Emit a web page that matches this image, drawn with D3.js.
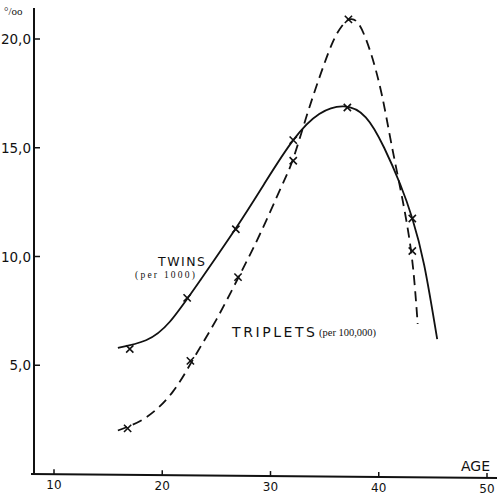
<!DOCTYPE html>
<html>
<head>
<meta charset="utf-8">
<script src="https://cdn.jsdelivr.net/npm/d3@7"></script>
<style>
  body { margin: 0; background: #fff; }
  text { font-family: "DejaVu Sans", sans-serif; fill: #111; }
</style>
</head>
<body>
<svg id="chart" width="497" height="501"></svg>
<script>
// tick values
const xTicks = [10, 20, 30, 40, 50];
const yTicks = [5, 10, 15, 20];

// observed points (crosses)
const twinsPts    = [[17.0, 5.75], [22.3, 8.1], [26.8, 11.25], [32.1, 15.35], [37.1, 16.85], [43.1, 11.75]];
const tripletsPts = [[16.8, 2.1], [22.6, 5.2], [27.0, 9.05], [32.1, 14.4], [37.2, 20.9], [43.1, 10.25]];

// hand-drawn fitted curves
const twinsCurve = [[15.9, 5.8], [18.5, 6.15], [20.7, 7.0], [23.5, 8.9], [26.8, 11.3], [29.5, 13.4],
  [32.1, 15.35], [34.5, 16.55], [36.8, 16.9], [38.8, 16.4], [40.5, 15.0], [42.0, 13.3], [43.1, 11.75],
  [44.2, 9.6], [45.4, 6.2]];
const tripletsCurve = [[15.9, 2.0], [18.5, 2.6], [21.0, 3.8], [23.0, 5.4], [25.0, 7.1], [27.0, 9.0],
  [29.0, 11.0], [31.0, 13.2], [32.1, 14.5], [33.3, 16.4], [34.5, 18.2], [35.7, 19.8], [36.6, 20.6],
  [37.3, 20.9], [38.2, 20.65], [39.3, 19.3], [40.3, 17.4], [41.2, 15.1], [42.2, 12.6], [43.0, 10.2],
  [43.4, 8.2], [43.6, 6.9]];

const svg = d3.select('#chart');
const x = d3.scaleLinear().domain([10, 50]).range([54, 487]);
const y = d3.scaleLinear().domain([0, 20]).range([474, 39]);

const axisX = 34, axisY = 474;

// axes lines
svg.append('line').attr('x1', axisX).attr('x2', axisX).attr('y1', 8).attr('y2', axisY)
  .attr('stroke', '#111').attr('stroke-width', 2);
svg.append('line').attr('x1', 31).attr('x2', 497).attr('y1', axisY).attr('y2', axisY + 4)
  .attr('stroke', '#111').attr('stroke-width', 1.8);

// y ticks
const gy = svg.append('g');
yTicks.forEach(v => {
  gy.append('line').attr('x1', axisX).attr('x2', axisX + 6).attr('y1', y(v)).attr('y2', y(v))
    .attr('stroke', '#111').attr('stroke-width', 1.5);
  gy.append('text').attr('x', axisX - 3).attr('y', y(v) + 5).attr('text-anchor', 'end')
    .style('font-size', '13.5px').text(d3.format('.1f')(v).replace('.', ','));
});

// x ticks (axis drifts slightly downward to the right)
const gx = svg.append('g');
xTicks.forEach(v => {
  const yy = axisY + (x(v) - 31) / 466 * 4;
  gx.append('line').attr('x1', x(v)).attr('x2', x(v)).attr('y1', yy).attr('y2', yy - 5)
    .attr('stroke', '#111').attr('stroke-width', 1.5);
  gx.append('text').attr('x', x(v)).attr('y', yy + 15).attr('text-anchor', 'middle')
    .style('font-size', '12px').text(v);
});

svg.append('text').attr('x', 4).attr('y', 15).style('font-size', '11px')
  .style('font-family', '"Liberation Serif", serif').text('°/oo');
svg.append('text').attr('x', 490).attr('y', 471).attr('text-anchor', 'end')
  .style('font-size', '14px').text('AGE');

// curves
const line = d3.line().x(d => x(d[0])).y(d => y(d[1])).curve(d3.curveNatural);
svg.append('path').datum(twinsCurve).attr('d', line)
  .attr('fill', 'none').attr('stroke', '#111').attr('stroke-width', 1.8);
svg.append('path').datum(tripletsCurve).attr('d', line)
  .attr('fill', 'none').attr('stroke', '#111').attr('stroke-width', 1.8)
  .attr('stroke-dasharray', '10,6');

// crosses
const cross = d3.symbol(d3.symbolTimes, 36);
[twinsPts, tripletsPts].forEach(pts => {
  svg.append('g').selectAll('path').data(pts).join('path')
    .attr('transform', d => `translate(${x(d[0])},${y(d[1])})`)
    .attr('d', cross).attr('stroke', '#111').attr('stroke-width', 1.6).attr('fill', 'none');
});

// labels
svg.append('text').attr('x', 158).attr('y', 266).style('font-size', '12.5px')
  .attr('textLength', 47).text('TWINS');
svg.append('text').attr('x', 135).attr('y', 278).style('font-size', '9.5px')
  .style('font-family', '"Liberation Serif", serif').attr('textLength', 60).text('(per 1000)');
svg.append('text').attr('x', 232).attr('y', 337).style('font-size', '14px')
  .attr('textLength', 83).text('TRIPLETS');
svg.append('text').attr('x', 319).attr('y', 336).style('font-size', '10.5px')
  .style('font-family', '"Liberation Serif", serif').attr('textLength', 57).text('(per 100,000)');
</script>
</body>
</html>
